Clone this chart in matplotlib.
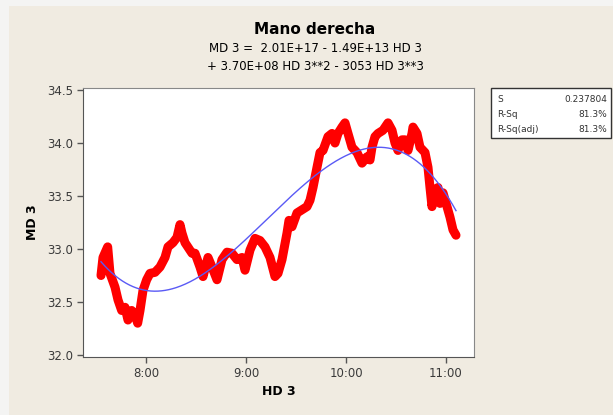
import matplotlib
matplotlib.use("Agg")
import matplotlib.pyplot as plt
from matplotlib.patches import Rectangle
import numpy as np

# time of day in minutes after midnight, and the MD 3 reading
hd3_minutes = [453.0, 454.2, 457.0, 458.4, 461.4, 463.2, 465.4, 467.4, 469.2, 471.4,
               473.4, 475.0, 476.4, 478.2, 480.4, 482.4, 485.4, 488.4, 491.4, 493.2,
               496.2, 498.6, 500.4, 501.6, 503.4, 507.6, 509.4, 512.4, 514.2, 517.2,
               519.6, 522.6, 525.6, 528.6, 531.6, 534.6, 537.6, 539.4, 542.4, 545.4,
               548.4, 551.4, 554.4, 557.4, 559.2, 561.6, 564.6, 565.8, 567.6, 570.6,
               573.6, 576.6, 578.4, 580.2, 582.6, 584.4, 586.2, 589.2, 591.6, 593.4,
               595.2, 597.6, 599.4, 601.2, 603.6, 606.6, 609.6, 612.6, 614.4, 615.6,
               617.4, 619.2, 622.2, 625.2, 627.6, 629.4, 631.2, 633.6, 635.4, 637.2,
               639.6, 640.2, 642.6, 644.4, 647.4, 649.2, 650.4, 651.6, 653.4, 655.2,
               656.4, 658.2, 660.6, 662.4, 664.2, 666.0]
md3 = [32.75, 32.92, 33.02, 32.77, 32.64, 32.52, 32.42, 32.45, 32.33, 32.42,
       32.38, 32.30, 32.42, 32.61, 32.71, 32.77, 32.78, 32.83, 32.92, 33.02,
       33.06, 33.11, 33.23, 33.15, 33.06, 32.96, 32.96, 32.83, 32.74, 32.92,
       32.83, 32.71, 32.90, 32.97, 32.96, 32.90, 32.92, 32.80, 32.99, 33.10,
       33.08, 33.02, 32.92, 32.74, 32.77, 32.90, 33.15, 33.27, 33.21, 33.34,
       33.37, 33.40, 33.46, 33.58, 33.77, 33.91, 33.93, 34.06, 34.09, 34.00,
       34.09, 34.15, 34.19, 34.09, 33.96, 33.91, 33.81, 33.87, 33.84, 33.96,
       34.06, 34.09, 34.12, 34.19, 34.12, 34.00, 33.93, 34.03, 34.03, 33.93,
       34.09, 34.15, 34.09, 33.96, 33.91, 33.77, 33.58, 33.40, 33.56, 33.58,
       33.43, 33.53, 33.40, 33.30, 33.18, 33.13]

x_ticks = [480, 540, 600, 660]
x_tick_labels = ["8:00", "9:00", "10:00", "11:00"]
y_ticks = [32.0, 32.5, 33.0, 33.5, 34.0, 34.5]

stat_names = ["S", "R-Sq", "R-Sq(adj)"]
stat_values = ["0.237804", "81.3%", "81.3%"]

fig = plt.figure(figsize=(6.13, 4.15), dpi=100)
fig.patch.set_facecolor("#f4f4f3")
fig.add_artist(Rectangle((9 / 613, 0), 1, 1 - 6 / 415, transform=fig.transFigure,
                         facecolor="#f0ebe1", edgecolor="none", zorder=-10))

ax = fig.add_axes([83 / 613, 58 / 415, 391 / 613, 269 / 415])
ax.set_facecolor("white")

x = np.array(hd3_minutes)
y = np.array(md3)
ax.plot(x, y, color="#ff0000", lw=6.5, solid_joinstyle="round", solid_capstyle="round", zorder=2)

# cubic regression line
coef = np.polyfit(x, y, 3)
xf = np.linspace(x.min(), x.max(), 300)
ax.plot(xf, np.polyval(coef, xf), color="#5a5af5", lw=1.0, zorder=3)

ax.set_xlim(442.2, 676.8)
ax.set_ylim(32.0 - 2 / 106, 34.5 + 2 / 106)
ax.set_xticks(x_ticks)
ax.set_xticklabels(x_tick_labels)
ax.set_yticks(y_ticks)
ax.set_yticklabels([f"{v:.1f}" for v in y_ticks])
ax.tick_params(direction="out", length=4, width=1, colors="#555555", labelcolor="#3a3a3a",
               labelsize=8.5, pad=3)
for s in ["top", "right"]:
    ax.spines[s].set_color("#888888")
for s in ["left", "bottom"]:
    ax.spines[s].set_color("#555555")

ax.set_xlabel("HD 3", fontsize=9, fontweight="bold", labelpad=4)
ax.set_ylabel("MD 3", fontsize=9, fontweight="bold", labelpad=6)

fig.text(315 / 613, 1 - 30 / 415, "Mano derecha", ha="center", va="center",
         fontsize=11, fontweight="bold")
fig.text(315 / 613, 1 - 49 / 415, "MD 3 =  2.01E+17 - 1.49E+13 HD 3", ha="center",
         va="center", fontsize=8.5)
fig.text(315 / 613, 1 - 66.5 / 415, "+ 3.70E+08 HD 3**2 - 3053 HD 3**3", ha="center",
         va="center", fontsize=8.5)

# summary box
fig.add_artist(Rectangle((491 / 613, 1 - 138 / 415), 120 / 613, 50 / 415,
                         transform=fig.transFigure, facecolor="white",
                         edgecolor="#333333", lw=1.0))
for i, (n, v) in enumerate(zip(stat_names, stat_values)):
    yy = 1 - (99 + i * 15) / 415
    fig.text(497 / 613, yy, n, ha="left", va="center", fontsize=6.5, color="#333333")
    fig.text(607 / 613, yy, v, ha="right", va="center", fontsize=6.5, color="#333333")

fig.savefig("out.png", dpi=100, facecolor=fig.get_facecolor())
